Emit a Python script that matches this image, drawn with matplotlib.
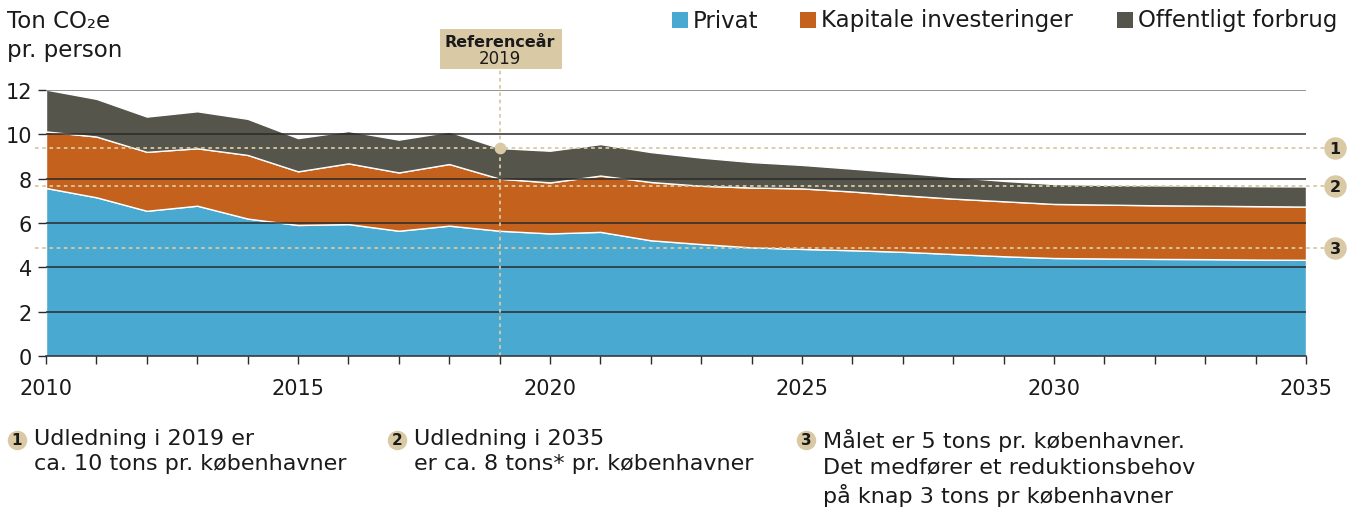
import matplotlib
matplotlib.use("Agg")

import matplotlib.pyplot as plt
import matplotlib.ticker as mticker
from matplotlib.patches import Rectangle
import numpy as np

# ── Colours ────────────────────────────────────────────────────────────────
BLUE = "#4aa9d1"
ORANGE = "#c4621d"
DARK = "#55554c"
TAN = "#d9c9a4"
GRID = "#2a2a2a"
INK = "#1a1a1a"

plt.rcParams["font.family"] = ["DejaVu Sans"]

# ── Data (ton CO2e pr. person) ─────────────────────────────────────────────
YEARS = list(range(2010, 2036))
PRIVAT = [7.58, 7.16, 6.55, 6.78, 6.20, 5.91, 5.95, 5.65, 5.88, 5.65,
          5.53, 5.60, 5.22, 5.05, 4.90, 4.83, 4.77, 4.70, 4.60, 4.50,
          4.42, 4.40, 4.38, 4.37, 4.35, 4.34]
KAPITAL = [2.55, 2.74, 2.66, 2.59, 2.87, 2.42, 2.74, 2.63, 2.78, 2.35,
           2.30, 2.54, 2.63, 2.63, 2.70, 2.73, 2.65, 2.55, 2.50, 2.48,
           2.44, 2.43, 2.42, 2.41, 2.41, 2.40]
OFFENTLIG = [1.89, 1.70, 1.59, 1.67, 1.63, 1.50, 1.46, 1.48, 1.46, 1.38,
             1.43, 1.42, 1.35, 1.27, 1.15, 1.06, 1.03, 1.02, 0.98, 0.92,
             0.90, 0.89, 0.90, 0.90, 0.90, 0.91]
SERIES = ["Privat", "Kapitale investeringer", "Offentligt forbrug"]
COLORS = [BLUE, ORANGE, DARK]

REF_YEAR = 2019
TARGET = 4.85
Y_TICKS = [0, 2, 4, 6, 8, 10, 12]
X_MAJOR = [2010, 2015, 2020, 2025, 2030, 2035]

NOTES = [
    ("1", "Udledning i 2019 er\nca. 10 tons pr. københavner"),
    ("2", "Udledning i 2035\ner ca. 8 tons* pr. københavner"),
    ("3", "Målet er 5 tons pr. københavner.\nDet medfører et reduktionsbehov\npå knap 3 tons pr københavner"),
]

W, H = 1367, 510
fig = plt.figure(figsize=(W / 100, H / 100), dpi=100)
ax = fig.add_axes([46 / W, 1 - 357 / H, 1260 / W, 266 / H])

years = np.array(YEARS)
total = np.array(PRIVAT) + np.array(KAPITAL) + np.array(OFFENTLIG)

ax.stackplot(years, PRIVAT, KAPITAL, OFFENTLIG, colors=COLORS,
             edgecolor="white", linewidth=1.0, zorder=1)

# gridlines over the areas
for yv in Y_TICKS[1:]:
    ax.axhline(yv, color=GRID if yv < 12 else "#777777", lw=1.1, zorder=3)

ax.set_xlim(2010, 2035)
ax.set_ylim(0, 12)
for s in ["top", "right", "left"]:
    ax.spines[s].set_visible(False)
ax.spines["bottom"].set_color(GRID)
ax.spines["bottom"].set_linewidth(1.1)
ax.spines["bottom"].set_zorder(4)

ax.set_xticks(X_MAJOR)
ax.xaxis.set_minor_locator(mticker.MultipleLocator(1))
ax.set_yticks(Y_TICKS)
ax.tick_params(axis="x", which="both", length=6, width=1, color=GRID,
               labelsize=15, labelcolor=INK, pad=10)
ax.tick_params(axis="y", length=6, width=1, color=GRID,
               labelsize=15, labelcolor=INK, pad=4)

# reference lines
x_left = 2010 - 11 / 50.4
x_right = 2035 + 19 / 50.4
ref_total = total[YEARS.index(REF_YEAR)]
end_total = total[-1]
for yv in [ref_total, end_total, TARGET]:
    ax.plot([x_left, x_right], [yv, yv], color=TAN, lw=1.3,
            dashes=(2, 2), clip_on=False, zorder=4)

ax.plot([REF_YEAR, REF_YEAR], [0, 12.95], color=TAN, lw=1.3,
        dashes=(2, 2), clip_on=False, zorder=4)
ax.scatter([REF_YEAR], [ref_total], s=55, color=TAN, zorder=5, clip_on=False)

# Referenceår box
ax.add_patch(Rectangle((REF_YEAR - 1.19, 12.95), 2.42, 1.8, facecolor=TAN,
                       edgecolor="none", clip_on=False, zorder=5))
ax.text(REF_YEAR, 14.2, "Referenceår", ha="center", va="center",
        fontsize=11.5, fontweight="bold", color=INK, zorder=6)
ax.text(REF_YEAR, 13.45, str(REF_YEAR), ha="center", va="center",
        fontsize=12, color=INK, zorder=6)

# numbered markers on right
x_num = 2035 + 29 / 50.4
for (num, _), yv in zip(NOTES, [ref_total, end_total, TARGET]):
    ax.scatter([x_num], [yv], s=230, color=TAN, clip_on=False, zorder=5)
    ax.text(x_num, yv, num, ha="center", va="center", fontsize=11.5,
            fontweight="bold", color=INK, zorder=6)

# ── Overlay in pixel coordinates for texts ─────────────────────────────────
ov = fig.add_axes([0, 0, 1, 1], facecolor="none")
ov.set_xlim(0, W)
ov.set_ylim(H, 0)
ov.axis("off")

ov.text(7, 21, "Ton CO₂e", ha="left", va="center", fontsize=16.5, color=INK)
ov.text(7, 50, "pr. person", ha="left", va="center", fontsize=16.5, color=INK)

# legend
leg_x = [672, 800, 1117]
for lx, name, c in zip(leg_x, SERIES, COLORS):
    ov.add_patch(Rectangle((lx, 13), 16, 16, facecolor=c, edgecolor="none"))
    ov.text(lx + 21, 21, name, ha="left", va="center", fontsize=16.5, color=INK)

# notes
note_x = [17, 397, 806]
for nx, (num, txt) in zip(note_x, NOTES):
    ov.scatter([nx], [441], s=170, color=TAN, zorder=5)
    ov.text(nx, 441, num, ha="center", va="center", fontsize=11,
            fontweight="bold", color=INK, zorder=6)
    ov.text(nx + 17, 429, txt, ha="left", va="top", fontsize=16,
            color=INK, linespacing=1.34)

fig.savefig("out.png", dpi=100, facecolor="white")
